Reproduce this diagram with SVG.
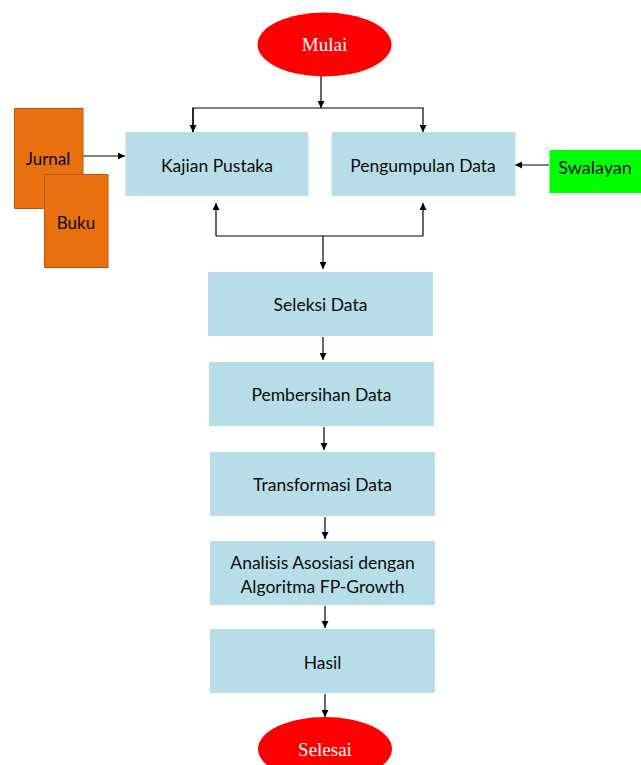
<svg xmlns="http://www.w3.org/2000/svg" width="641" height="765" viewBox="0 0 641 765">
<style>
.box{fill:#B7DEE8;}
.t{font-family:Lato,"Open Sans","Liberation Sans",sans-serif;font-size:17.5px;fill:#0a0a0a;text-anchor:middle;dominant-baseline:central;}
.term{fill:#FF0000;}
.tt{font-family:"Liberation Serif","DejaVu Serif",serif;font-size:19px;fill:#fff;text-anchor:middle;dominant-baseline:central;}
.doc{fill:#E8700E;stroke:#B55A10;stroke-width:1;}
.ln{fill:none;stroke:#000;stroke-width:1.2;}
</style>
<defs>
<marker id="ah" viewBox="0 0 10 10" refX="10" refY="5" markerWidth="7" markerHeight="7" markerUnits="userSpaceOnUse" orient="auto">
<path d="M0,0 L10,5 L0,10 z" fill="#000"/>
</marker>
</defs>
<rect width="641" height="765" fill="#fff"/>
<g id="connectors">
<path class="ln" d="M321,76 V108" marker-end="url(#ah)"/>
<path class="ln" d="M193,132 V108 H423 V132" marker-end="url(#ah)"/>
<path class="ln" d="M193,108 V132" marker-end="url(#ah)"/>
<path class="ln" d="M83,156 H125" marker-end="url(#ah)"/>
<path class="ln" d="M549,165 H515" marker-end="url(#ah)"/>
<path class="ln" d="M216,236 V203" marker-end="url(#ah)"/>
<path class="ln" d="M423,236 V203" marker-end="url(#ah)"/>
<path class="ln" d="M216,236 H423"/>
<path class="ln" d="M323,236 V269" marker-end="url(#ah)"/>
<path class="ln" d="M323,337 V360" marker-end="url(#ah)"/>
<path class="ln" d="M324,427 V450" marker-end="url(#ah)"/>
<path class="ln" d="M325,517 V539" marker-end="url(#ah)"/>
<path class="ln" d="M325,606 V628" marker-end="url(#ah)"/>
<path class="ln" d="M325,694 V717" marker-end="url(#ah)"/>
</g>
<g id="mulai"><ellipse class="term" cx="324.5" cy="44.5" rx="67" ry="32"/><text class="tt" x="324.5" y="44">Mulai</text></g>
<g id="jurnal"><rect class="doc" x="14.5" y="108.5" width="68.5" height="100"/><text class="t" x="48" y="158" style="font-size:17px">Jurnal</text></g>
<g id="buku"><rect class="doc" x="44.5" y="174.5" width="63.5" height="93"/><text class="t" x="76" y="222" style="font-size:17px">Buku</text></g>
<g id="kajian"><rect class="box" x="125.5" y="132" width="183" height="64"/><text class="t" x="217" y="165">Kajian Pustaka</text></g>
<g id="pengumpulan"><rect class="box" x="331.5" y="132" width="184" height="64"/><text class="t" x="423" y="165">Pengumpulan Data</text></g>
<g id="swalayan"><rect x="549.5" y="150" width="92" height="43" fill="#00FF00"/><text class="t" x="595" y="167" style="font-size:18px">Swalayan</text></g>
<g id="seleksi"><rect class="box" x="208" y="272" width="225" height="64"/><text class="t" x="320.5" y="304">Seleksi Data</text></g>
<g id="pembersihan"><rect class="box" x="209" y="362" width="225" height="64"/><text class="t" x="321.5" y="394">Pembersihan Data</text></g>
<g id="transformasi"><rect class="box" x="210" y="452" width="225" height="64"/><text class="t" x="322.5" y="484">Transformasi Data</text></g>
<g id="analisis"><rect class="box" x="210" y="541" width="225" height="64"/><text class="t" x="322.5" y="562">Analisis Asosiasi dengan</text><text class="t" x="322.5" y="586">Algoritma FP-Growth</text></g>
<g id="hasil"><rect class="box" x="210" y="629" width="225" height="64"/><text class="t" x="322.5" y="662">Hasil</text></g>
<g id="selesai"><ellipse class="term" cx="325" cy="749" rx="67" ry="32"/><text class="tt" x="325" y="749">Selesai</text></g>
</svg>
